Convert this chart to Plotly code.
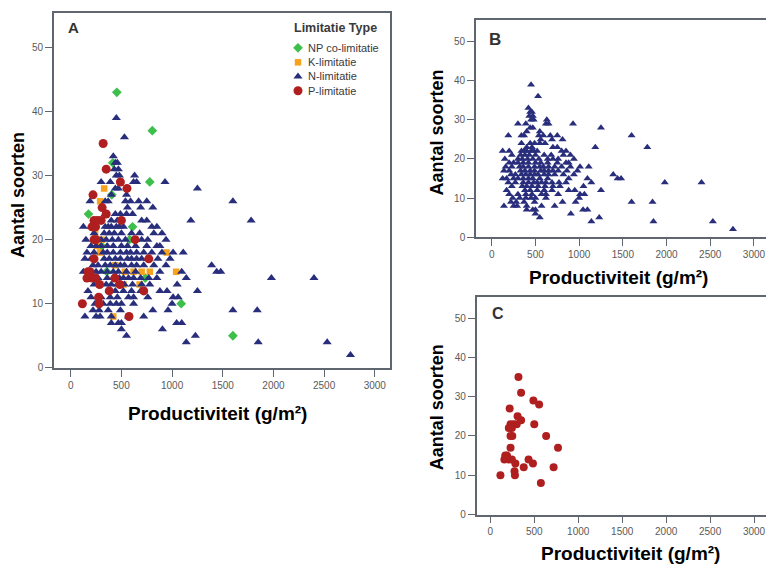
import plotly.graph_objects as go

W, H = 766, 570

# ---------------- data (Productiviteit g/m2, Aantal soorten) ----------------
# N-limitatie (triangles)
N_x = [450,
       530,
       420,
       440, 460,
       430, 470,
       450, 480, 630,
       300, 390, 620, 650, 930,
       440, 470, 1250,
       400, 550,
       190, 340, 370, 540, 590, 670, 750, 1600,
       560, 690, 810,
       340, 440, 490, 550, 610,
       400, 460, 700, 750, 1185, 1780,
       125, 200, 340, 370, 400, 450, 480, 520, 800, 850,
       230, 330, 380, 430, 500, 600, 680, 820, 900,
       150, 300, 350, 410, 470, 540, 640, 700, 760, 940,
       200, 250, 300, 360, 420, 500, 560, 640, 750, 850, 880,
       160, 230, 320, 360, 420, 490, 550, 590, 650, 720, 800, 900, 1010, 1110,
       140, 200, 330, 380, 440, 490, 560, 600, 650, 700, 760, 860, 980,
       220, 270, 340, 390, 440, 490, 530, 600, 650, 720, 820, 940, 1390,
       125, 170, 250, 300, 360, 420, 470, 550, 640, 880, 1095, 1440, 1480,
       190, 270, 360, 420, 480, 520, 570, 620, 690, 770, 850, 1140, 1980, 2400,
       230, 350, 400, 460, 530, 610, 700, 780, 1050,
       170, 380, 440, 520, 600, 690, 880, 950, 1250,
       200, 300, 390, 460, 570, 620, 760, 1010, 1060,
       240, 320, 390, 450, 500, 620, 1000,
       220, 280, 370, 490, 810, 960, 1600, 1840,
       140, 250, 290, 400, 570, 720,
       400, 470, 500, 1045, 1095,
       500, 905,
       550, 1230,
       1140, 1850, 2530,
       2760]
N_y = [39,
       36,
       33,
       32, 32,
       31, 31,
       30, 30, 30,
       29, 29, 29, 29, 29,
       28, 28, 28,
       27, 27,
       26, 26, 26, 26, 26, 26, 26, 26,
       25, 25, 25,
       24, 24, 24, 24, 24,
       23, 23, 23, 23, 23, 23,
       22, 22, 22, 22, 22, 22, 22, 22, 22, 22,
       21, 21, 21, 21, 21, 21, 21, 21, 21,
       20, 20, 20, 20, 20, 20, 20, 20, 20, 20,
       19, 19, 19, 19, 19, 19, 19, 19, 19, 19, 19,
       18, 18, 18, 18, 18, 18, 18, 18, 18, 18, 18, 18, 18, 18,
       17, 17, 17, 17, 17, 17, 17, 17, 17, 17, 17, 17, 17,
       16, 16, 16, 16, 16, 16, 16, 16, 16, 16, 16, 16, 16,
       15, 15, 15, 15, 15, 15, 15, 15, 15, 15, 15, 15, 15,
       14, 14, 14, 14, 14, 14, 14, 14, 14, 14, 14, 14, 14, 14,
       13, 13, 13, 13, 13, 13, 13, 13, 13,
       12, 12, 12, 12, 12, 12, 12, 12, 12,
       11, 11, 11, 11, 11, 11, 11, 11, 11,
       10, 10, 10, 10, 10, 10, 10,
       9, 9, 9, 9, 9, 9, 9, 9,
       8, 8, 8, 8, 8, 8,
       7, 7, 7, 7, 7,
       6, 6,
       5, 5,
       4, 4, 4,
       2]

# P-limitatie (circles)
P_x = [320, 350, 490, 555, 220, 310, 350, 230, 265, 300, 500, 210, 245, 230, 250, 635,
       230, 770, 170, 190, 210, 245, 160, 435, 285, 485, 380, 720, 275, 115, 280, 575]
P_y = [35, 31, 29, 28, 27, 25, 24, 23, 23, 23, 23, 22, 22, 20, 20, 20,
       17, 17, 15, 15, 14, 14, 14, 14, 13, 13, 12, 12, 11, 10, 10, 8]

# K-limitatie (squares)
K_x = [330, 290, 260, 240, 305, 290, 945, 440, 535, 620, 700, 780, 1040, 520, 680, 420]
K_y = [28, 26, 19, 21, 20, 18, 18, 16, 15, 15, 15, 15, 15, 13, 13, 8]

# NP co-limitatie (diamonds)
NP_x = [455, 805, 780, 415, 405, 175, 610, 580, 305, 355, 735, 1090, 1600]
NP_y = [43, 37, 29, 32, 27, 24, 22, 20, 19, 15, 14, 10, 5]

x_ticks = [0, 500, 1000, 1500, 2000, 2500, 3000]
y_ticks = [0, 10, 20, 30, 40, 50]
legend_title = "Limitatie Type"
legend_labels = ["NP co-limitatie", "K-limitatie", "N-limitatie", "P-limitatie"]

# ---------------- style ----------------
NAVY = "#292e7c"
RED = "#b01f1f"
ORANGE = "#f6a21d"
GREEN = "#3dbf4b"
FRAME = "#60666f"
FONT = "Liberation Sans"


def fx(p):
    return p / W


def fy(p):
    return 1 - p / H


fig = go.Figure()

# Panel A
fig.add_trace(go.Scatter(x=NP_x, y=NP_y, mode="markers", xaxis="x", yaxis="y",
                         marker=dict(symbol="diamond", size=7.5, color=GREEN)))
fig.add_trace(go.Scatter(x=K_x, y=K_y, mode="markers", xaxis="x", yaxis="y",
                         marker=dict(symbol="square", size=6.5, color=ORANGE)))
fig.add_trace(go.Scatter(x=N_x, y=N_y, mode="markers", xaxis="x", yaxis="y",
                         marker=dict(symbol="triangle-up", size=8, color=NAVY)))
fig.add_trace(go.Scatter(x=P_x, y=P_y, mode="markers", xaxis="x", yaxis="y",
                         marker=dict(symbol="circle", size=9, color=RED)))
# Panel B
fig.add_trace(go.Scatter(x=N_x, y=N_y, mode="markers", xaxis="x2", yaxis="y2",
                         marker=dict(symbol="triangle-up", size=7, color=NAVY)))
# Panel C
fig.add_trace(go.Scatter(x=P_x, y=P_y, mode="markers", xaxis="x3", yaxis="y3",
                         marker=dict(symbol="circle", size=8, color=RED)))

# Legend glyphs (pixel-space overlay axis, transparent)
leg_syms = ["diamond", "square", "triangle-up", "circle"]
leg_cols = [GREEN, ORANGE, NAVY, RED]
leg_sizes = [7.5, 6.5, 8, 9]
leg_y = [48.3, 63.0, 77.3, 91.7]
for s, c, z, yy in zip(leg_syms, leg_cols, leg_sizes, leg_y):
    fig.add_trace(go.Scatter(x=[298], y=[yy], mode="markers", xaxis="x4", yaxis="y4",
                             marker=dict(symbol=s, size=z, color=c)))

axis_common = dict(showgrid=False, zeroline=False, showline=True, linecolor=FRAME,
                   linewidth=1.6, ticks="outside", ticklen=7, tickwidth=1.4,
                   tickcolor=FRAME,
                   tickfont=dict(family=FONT, size=10, color="#5a5a5a"))

fig.update_layout(
    width=W, height=H, margin=dict(l=0, r=0, t=0, b=0),
    paper_bgcolor="white", plot_bgcolor="rgba(0,0,0,0)", showlegend=False,
    xaxis=dict(domain=[fx(54), fx(390)], range=[-165, 3150], tickvals=x_ticks,
               anchor="y", mirror=True, **axis_common),
    yaxis=dict(domain=[fy(371.7), fy(13)], range=[0, 55.4], tickvals=y_ticks,
               anchor="x", mirror=True, **axis_common),
    xaxis2=dict(domain=[fx(476), 1], range=[-180, 3138], tickvals=x_ticks,
                anchor="y2", mirror=True, **axis_common),
    yaxis2=dict(domain=[fy(239.7), fy(20.7)], range=[0, 55.4], tickvals=y_ticks,
                anchor="x2", mirror=False, **axis_common),
    xaxis3=dict(domain=[fx(476.7), 1], range=[-155, 3136], tickvals=x_ticks,
                anchor="y3", mirror=True, **axis_common),
    yaxis3=dict(domain=[fy(520), fy(300)], range=[0, 55.4], tickvals=y_ticks,
                anchor="x3", mirror=False, **axis_common),
    xaxis4=dict(domain=[0, 1], range=[0, W], visible=False, anchor="y4"),
    yaxis4=dict(domain=[0, 1], range=[H, 0], visible=False, anchor="x4"),
)

ann = []


def add_text(text, x, y, size, color="black", bold=True, angle=0, xanchor="center"):
    ann.append(dict(text=text, x=fx(x), y=fy(y), xref="paper", yref="paper",
                    showarrow=False, textangle=angle, xanchor=xanchor, yanchor="middle",
                    font=dict(family=FONT, size=size, color=color,
                              weight="bold" if bold else "normal")))


# axis titles
add_text("Aantal soorten", 18.5, 197.5, 18, angle=-90)
add_text("Productiviteit (g/m²)", 217, 418, 19)
add_text("Aantal soorten", 437, 134, 18, angle=-90)
add_text("Productiviteit (g/m²)", 618, 280, 19)
add_text("Aantal soorten", 437, 411.5, 18, angle=-90)
add_text("Productiviteit (g/m²)", 630, 559, 19)
# panel letters
add_text("A", 73.5, 27.5, 15, color="#333333")
add_text("B", 494.5, 40, 17, color="#333333")
add_text("C", 498, 317, 16, color="#333333")
# legend text
add_text(legend_title, 335, 28, 12.5, color="#3a3a3a")
for lab, yy in zip(legend_labels, leg_y):
    add_text(lab, 306, yy, 11, color="#3a3a3a", bold=False, xanchor="left")

fig.update_layout(annotations=ann)

fig.write_html("out.html")
